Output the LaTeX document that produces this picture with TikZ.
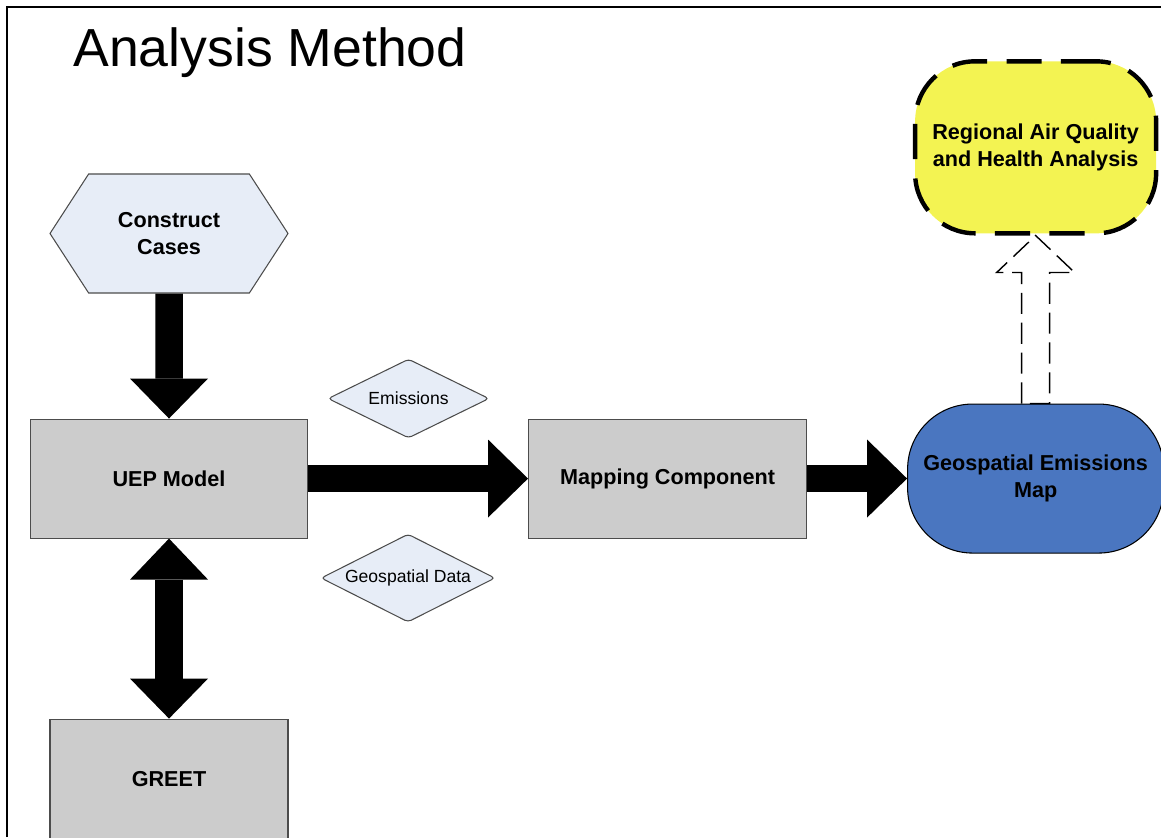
\documentclass[tikz,border=0pt]{standalone}
\usepackage{fontspec}
\setmainfont{Liberation Sans}
\usetikzlibrary{shapes.geometric,shapes.symbols}
\usetikzlibrary{arrows.meta}
\usetikzlibrary{positioning,calc}
\definecolor{paleblue}{HTML}{E7EDF7}
\definecolor{boxgray}{HTML}{CCCCCC}
\definecolor{mapblue}{HTML}{4A76C0}
\definecolor{aqyellow}{HTML}{F3F352}

\begin{document}
\begin{tikzpicture}[font=\fontsize{12.3}{15}\selectfont\bfseries,every node/.style={align=center,inner sep=0pt},box/.style={rectangle,fill=boxgray,draw=black!70,line width=0.6pt,minimum height=2.38cm},flow/.style={diamond,aspect=2,fill=paleblue,draw=black!70,line width=0.6pt,rounded corners=2pt,font=\fontsize{10}{12}\selectfont},fat/.style={line width=0.55cm,-{Triangle[width=1.56cm,length=0.8cm,line width=0pt]}},fatboth/.style={line width=0.56cm,{Triangle[width=1.56cm,length=0.82cm,line width=0pt]}-{Triangle[width=1.56cm,length=0.8cm,line width=0pt]}},hollow/.style={draw=black,line width=0.8pt,dash pattern=on 12pt off 5pt,line join=miter}]
\useasboundingbox (0,0) rectangle (23.22,16.74);
\draw[line width=1.1pt] (0.14,0) |- (23.22,16.60);
\node[anchor=base west,font=\fontsize{30.5}{36}\selectfont] (title) at (1.46,15.40) {Analysis Method};
\node[signal,signal to=east and west,signal pointer angle=114,fill=paleblue,draw=black!70,line width=0.6pt,minimum width=4.76cm,minimum height=2.38cm] (cc) at (3.38,12.07) {Construct\\Cases};
\node[box,minimum width=5.54cm] (uep) [below=2.5cm of cc] {UEP Model};
\node[box,minimum width=4.76cm] (greet) [below=3.6cm of uep] {GREET};
\node[box,minimum width=5.56cm] (map) [right=4.4cm of uep] {Mapping Component};
\node[rectangle,rounded corners=1.3cm,fill=mapblue,draw=black,line width=0.6pt,minimum width=5.12cm,minimum height=2.98cm] (gmap) [right=2cm of map] {Geospatial Emissions\\Map};
\node[rectangle,rounded corners=1.2cm,fill=aqyellow,draw=black,line width=2.5pt,dash pattern=on 20pt off 11pt,minimum width=4.82cm,minimum height=3.44cm] (raq) [above=3.36cm of gmap] {Regional Air Quality\\and Health Analysis};
\node[flow,minimum width=3.22cm,minimum height=1.58cm] (em) at ($(uep.east)!0.5!(map.west)+(-0.19,1.6)$) {Emissions};
\node[flow,minimum width=3.48cm,minimum height=1.76cm] (gd) at ($(uep.east)!0.5!(map.west)+(-0.2,-1.99)$) {Geospatial Data};
% block arrows
\draw[fat] (cc) -- (uep);
\draw[fatboth] (uep) -- (greet);
\draw[fat] (uep) -- (map);
\draw[fat] (map) -- (gmap);
\draw[hollow] ($(gmap.north)+(-0.28,0)$) -- ($(raq.south)+(-0.28,-0.74)$) -- ($(raq.south)+(-0.78,-0.74)$) -- (raq.south) -- ($(raq.south)+(0.78,-0.74)$) -- ($(raq.south)+(0.28,-0.74)$) -- ($(gmap.north)+(0.28,0)$) -- cycle;
\end{tikzpicture}
\end{document}
